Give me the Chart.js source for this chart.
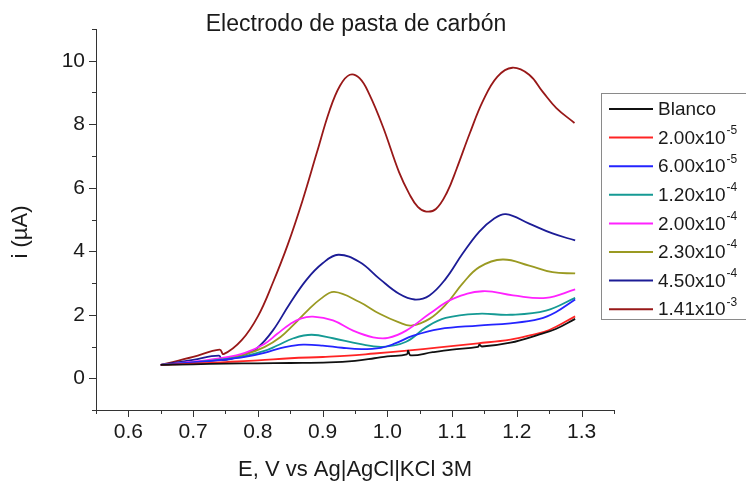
<!DOCTYPE html>
<html>
<head>
<meta charset="utf-8">
<script src="https://cdn.jsdelivr.net/npm/chart.js@4.4.0/dist/chart.umd.min.js"></script>
<style>
  html, body { margin: 0; padding: 0; background: #fff; }
</style>
</head>
<body>
<canvas id="voltammogram" width="746" height="484"></canvas>
<script>
// DPV curves on the carbon paste electrode, one curve per concentration

const chartTitle = 'Electrodo de pasta de carbón';
const xTitle = 'E, V vs Ag|AgCl|KCl 3M';
const yTitle = 'i (µA)';

// axis ticks: labelled majors and short unlabelled minors
const xMajorTicks = [0.6, 0.7, 0.8, 0.9, 1.0, 1.1, 1.2, 1.3];
const xMinorTicks = [0.55, 0.65, 0.75, 0.85, 0.95, 1.05, 1.15, 1.25, 1.35];
const yMajorTicks = [0, 2, 4, 6, 8, 10];
const yMinorTicks = [-1, 1, 3, 5, 7, 9, 11];

// legend text: mantissa part and superscript exponent
const seriesNames = ['Blanco', '2.00x10', '6.00x10', '1.20x10', '2.00x10', '2.30x10', '4.50x10', '1.41x10'];
const seriesExponents = ['', '-5', '-5', '-4', '-4', '-4', '-4', '-3'];
const seriesColors = ['#111111', '#ff2424', '#2424ff', '#159a94', '#ff22ff', '#9a9a22', '#1c1c96', '#981818'];

// [potential (V), current (µA)]
const blanco = [
  [0.65, 0.42], [0.70, 0.44], [0.75, 0.46], [0.80, 0.47], [0.85, 0.48], [0.91, 0.50],
  [0.95, 0.55], [0.98, 0.63], [1.00, 0.69], [1.030, 0.75], [1.032, 0.87], [1.036, 0.72],
  [1.07, 0.82], [1.10, 0.90], [1.140, 0.99], [1.142, 1.06], [1.146, 1.00], [1.19, 1.12],
  [1.235, 1.38], [1.26, 1.55], [1.29, 1.87]
];
const conc2e5 = [
  [0.65, 0.42], [0.70, 0.46], [0.75, 0.51], [0.80, 0.56], [0.85, 0.63], [0.90, 0.67],
  [0.94, 0.71], [0.98, 0.78], [1.03, 0.87], [1.08, 0.97], [1.14, 1.10], [1.19, 1.22],
  [1.22, 1.35], [1.25, 1.52], [1.29, 1.95]
];
const conc6e5 = [
  [0.65, 0.42], [0.70, 0.50], [0.745, 0.58], [0.78, 0.67], [0.81, 0.80], [0.835, 0.95],
  [0.85, 1.01], [0.87, 1.06], [0.90, 1.03], [0.93, 0.96], [0.96, 0.92], [0.99, 0.96],
  [1.01, 1.08], [1.04, 1.34], [1.08, 1.55], [1.14, 1.66], [1.19, 1.73], [1.235, 1.87],
  [1.26, 2.08], [1.29, 2.48]
];
const conc12e5 = [
  [0.65, 0.42], [0.70, 0.50], [0.745, 0.59], [0.78, 0.70], [0.81, 0.86], [0.83, 1.03],
  [0.855, 1.26], [0.883, 1.37], [0.916, 1.26], [0.957, 1.08], [0.993, 0.99], [1.029, 1.15],
  [1.06, 1.61], [1.09, 1.90], [1.14, 2.03], [1.19, 2.00], [1.245, 2.13], [1.29, 2.53]
];
const conc2e4 = [
  [0.65, 0.42], [0.70, 0.52], [0.745, 0.64], [0.78, 0.80], [0.81, 1.08], [0.83, 1.40],
  [0.85, 1.71], [0.866, 1.88], [0.885, 1.94], [0.916, 1.82], [0.947, 1.50], [0.978, 1.29],
  [1.001, 1.27], [1.029, 1.50], [1.065, 2.03], [1.101, 2.50], [1.147, 2.74], [1.194, 2.61],
  [1.245, 2.53], [1.29, 2.80]
];
const conc23e5 = [
  [0.65, 0.42], [0.70, 0.50], [0.745, 0.60], [0.78, 0.75], [0.81, 0.98], [0.835, 1.30],
  [0.855, 1.68], [0.875, 2.10], [0.897, 2.50], [0.918, 2.72], [0.957, 2.40], [0.988, 2.03],
  [1.018, 1.76], [1.037, 1.66], [1.065, 1.87], [1.091, 2.34], [1.116, 2.98], [1.142, 3.50],
  [1.178, 3.74], [1.219, 3.55], [1.255, 3.34], [1.29, 3.30]
];
const conc45e5 = [
  [0.65, 0.42], [0.70, 0.58], [0.74, 0.71], [0.745, 0.57], [0.78, 0.75], [0.80, 0.97],
  [0.823, 1.50], [0.849, 2.34], [0.875, 3.10], [0.90, 3.62], [0.924, 3.89], [0.957, 3.66],
  [0.988, 3.13], [1.018, 2.66], [1.042, 2.48], [1.065, 2.61], [1.09, 3.13], [1.116, 3.92],
  [1.142, 4.62], [1.163, 5.00], [1.183, 5.17], [1.219, 4.87], [1.255, 4.56], [1.29, 4.34]
];
const conc141e4 = [
  [0.65, 0.42], [0.70, 0.67], [0.741, 0.90], [0.747, 0.76], [0.775, 1.20], [0.80, 1.95],
  [0.823, 3.00], [0.846, 4.20], [0.869, 5.60], [0.891, 7.10], [0.911, 8.45], [0.927, 9.22],
  [0.942, 9.56], [0.957, 9.45], [0.972, 8.95], [0.993, 7.93], [1.018, 6.49], [1.034, 5.80],
  [1.047, 5.40], [1.060, 5.25], [1.075, 5.33], [1.092, 5.85], [1.107, 6.60], [1.127, 7.70],
  [1.148, 8.75], [1.170, 9.50], [1.193, 9.78], [1.219, 9.56], [1.240, 9.02], [1.261, 8.51],
  [1.289, 8.04]
];

const curves = [blanco, conc2e5, conc6e5, conc12e5, conc2e4, conc23e5, conc45e5, conc141e4];

const fontFamily = '"Liberation Sans", Arial, sans-serif';
const textColor = '#1a1a1a';

const near = (list, v) => list.some(t => Math.abs(t - v) < 1e-6);

// minor/major tick marks, titles and the boxed legend
const decorations = {
  id: 'decorations',
  afterDraw(chart) {
    const { ctx, chartArea, scales: { x, y } } = chart;
    ctx.save();

    ctx.strokeStyle = '#333';
    ctx.lineWidth = 1;
    ctx.beginPath();
    xMajorTicks.concat(xMinorTicks).forEach(v => {
      const len = near(xMajorTicks, v) ? 7 : 4;
      const px = Math.round(x.getPixelForValue(v)) + 0.5;
      ctx.moveTo(px, chartArea.bottom);
      ctx.lineTo(px, chartArea.bottom + len);
    });
    yMajorTicks.concat(yMinorTicks).forEach(v => {
      const len = near(yMajorTicks, v) ? 7 : 4;
      const py = Math.round(y.getPixelForValue(v)) + 0.5;
      ctx.moveTo(chartArea.left, py);
      ctx.lineTo(chartArea.left - len, py);
    });
    ctx.stroke();

    ctx.fillStyle = textColor;
    ctx.textAlign = 'center';
    ctx.textBaseline = 'alphabetic';
    ctx.font = '23px ' + fontFamily;
    ctx.fillText(chartTitle, 356, 31);
    ctx.font = '22px ' + fontFamily;
    ctx.fillText(xTitle, (chartArea.left + chartArea.right) / 2, 476);

    ctx.save();
    ctx.translate(27, 232);
    ctx.rotate(-Math.PI / 2);
    ctx.fillText(yTitle, 0, 0);
    ctx.restore();

    // legend box
    ctx.strokeStyle = '#8a8a8a';
    ctx.strokeRect(601.5, 93.5, 160, 226);
    chart.data.datasets.forEach((ds, i) => {
      const cy = 109 + i * 28.6;
      ctx.strokeStyle = ds.borderColor;
      ctx.lineWidth = 2;
      ctx.beginPath();
      ctx.moveTo(609, cy);
      ctx.lineTo(653, cy);
      ctx.stroke();
      ctx.fillStyle = textColor;
      ctx.textAlign = 'left';
      ctx.textBaseline = 'middle';
      ctx.font = '19px ' + fontFamily;
      ctx.fillText(seriesNames[i], 658, cy + 1);
      if (seriesExponents[i]) {
        const w = ctx.measureText(seriesNames[i]).width;
        ctx.font = '12px ' + fontFamily;
        ctx.fillText(seriesExponents[i], 658 + w + 1, cy - 7);
      }
    });

    ctx.restore();
  }
};

const tickFont = { family: fontFamily, size: 21 };

new Chart(document.getElementById('voltammogram'), {
  type: 'line',
  data: {
    datasets: curves.map((pts, i) => ({
      label: seriesNames[i] + seriesExponents[i],
      data: pts.map(p => ({ x: p[0], y: p[1] })),
      borderColor: seriesColors[i],
      borderWidth: 1.8,
      pointRadius: 0,
      fill: false,
      tension: 0.4
    }))
  },
  options: {
    responsive: false,
    devicePixelRatio: 1,
    animation: false,
    layout: { padding: { top: 29, right: 132, bottom: 0, left: 0 } },
    plugins: {
      legend: { display: false },
      tooltip: { enabled: false },
      title: { display: false }
    },
    scales: {
      x: {
        type: 'linear',
        min: 0.55,
        max: 1.35,
        afterBuildTicks: s => { s.ticks = xMajorTicks.map(v => ({ value: v })); },
        afterFit: s => { s.height = 74; },
        grid: { display: false, drawTicks: false },
        border: { display: true, color: '#333', width: 1 },
        ticks: {
          autoSkip: false,
          maxRotation: 0,
          padding: 10,
          color: textColor,
          font: tickFont,
          callback: v => v.toFixed(1)
        }
      },
      y: {
        min: -1,
        max: 11,
        afterBuildTicks: s => { s.ticks = yMajorTicks.map(v => ({ value: v })); },
        afterFit: s => { s.width = 96; },
        grid: { display: false, drawTicks: false },
        border: { display: true, color: '#333', width: 1 },
        ticks: {
          autoSkip: false,
          padding: 11,
          color: textColor,
          font: tickFont,
          callback: v => String(v)
        }
      }
    }
  },
  plugins: [decorations]
});
</script>
</body>
</html>
